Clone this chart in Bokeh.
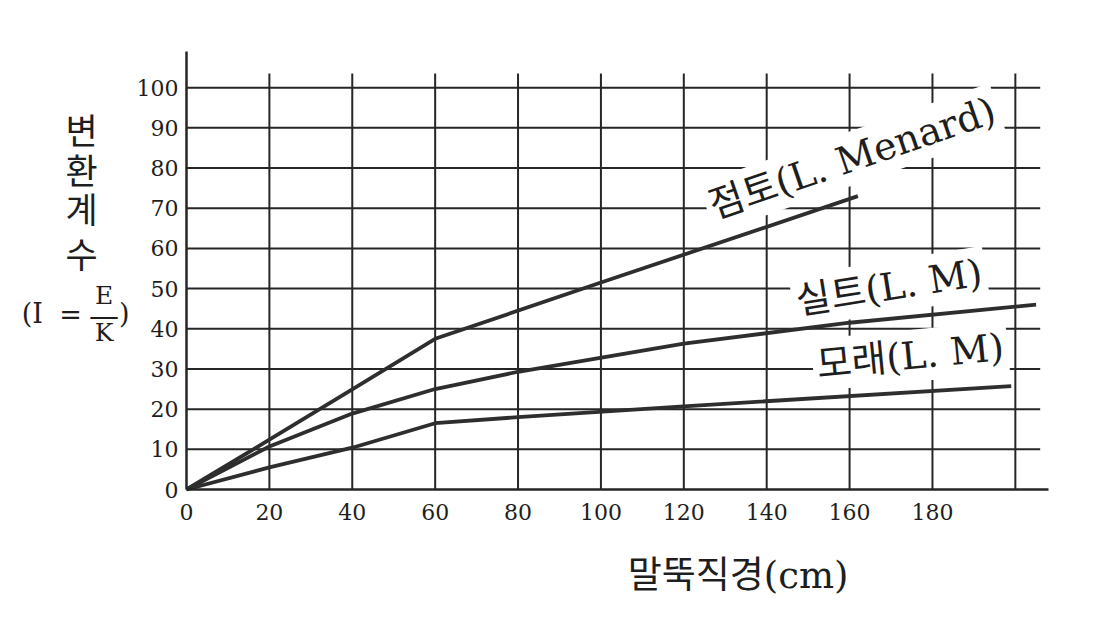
import math
from bokeh.plotting import figure
from bokeh.models import Label, Range1d, FixedTicker
from bokeh.embed import file_html
from bokeh.resources import INLINE

# ---- data ----
x_ticks = [0, 20, 40, 60, 80, 100, 120, 140, 160, 180]
y_ticks = [0, 10, 20, 30, 40, 50, 60, 70, 80, 90, 100]
grid_x = [20, 40, 60, 80, 100, 120, 140, 160, 180, 200]
grid_y = [10, 20, 30, 40, 50, 60, 70, 80, 90, 100]

clay_x = [0, 20, 40, 60, 100, 162]
clay_y = [0, 12.4, 24.9, 37.5, 51.5, 73]
silt_x = [0, 20, 40, 60, 80, 120, 160, 205]
silt_y = [0, 10.7, 18.9, 25.0, 29.3, 36.3, 41.5, 46.0]
sand_x = [0, 20, 40, 60, 80, 120, 199]
sand_y = [0, 5.5, 10.4, 16.5, 18.0, 20.7, 25.7]

labels = ["점토(L. Menard)", "실트(L. M)", "모래(L. M)"]
y_title_chars = ["변", "환", "계", "수"]
x_title = "말뚝직경(cm)"

SERIF = "DejaVu Serif, Noto Sans CJK KR"
CJK = "Noto Sans CJK KR"
INK = "#262626"
TXT = "#1e1e1e"

W, H = 1090, 612
KX = 862 / 208.0   # px per x unit
KY = 438 / 109.0   # px per y unit
x0 = -186 / KX
y0 = -123 / KY

p = figure(width=W, height=H, output_backend="svg", toolbar_location=None,
           x_range=Range1d(x0, x0 + W / KX), y_range=Range1d(y0, y0 + H / KY),
           min_border_left=0, min_border_right=0, min_border_top=0, min_border_bottom=0)
p.outline_line_color = None
p.grid.visible = False
p.background_fill_color = "white"
p.border_fill_color = "white"

p.xaxis.fixed_location = 0
p.yaxis.fixed_location = 0
p.xaxis.bounds = (0, 208)
p.yaxis.bounds = (0, 109)
for ax in (p.xaxis[0], p.yaxis[0]):
    ax.axis_line_width = 2.5
    ax.axis_line_color = INK
    ax.major_tick_in = 0
    ax.major_tick_out = 0
    ax.minor_tick_in = 0
    ax.minor_tick_out = 0
    ax.major_label_text_font = "DejaVu Serif"
    ax.major_label_text_font_size = "22px"
    ax.major_label_text_color = TXT
p.xaxis.ticker = FixedTicker(ticks=x_ticks)
p.yaxis.ticker = FixedTicker(ticks=y_ticks)
p.xaxis.major_label_standoff = 14
p.yaxis.major_label_standoff = 8

# grid lines of limited extent (drawn beneath the label boxes)
p.segment(x0=grid_x, y0=[0] * len(grid_x), x1=grid_x, y1=[103.5] * len(grid_x),
          line_color=INK, line_width=2, level="image")
p.segment(x0=[0] * len(grid_y), y0=grid_y, x1=[206] * len(grid_y), y1=grid_y,
          line_color=INK, line_width=2, level="image")

for xs, ys in ((clay_x, clay_y), (silt_x, silt_y), (sand_x, sand_y)):
    p.line(xs, ys, line_color="#2e2e2e", line_width=3.8)

# curve labels (white boxes hide the grid, the curves stay on top)
lab_pos = [(125.5, 70.0, 19), (146.2, 46.6, 9), (151.1, 30.9, 5.5)]
for txt, (lx, ly, ang) in zip(labels, lab_pos):
    p.add_layout(Label(x=lx, y=ly, text=txt, angle=math.radians(ang),
                       text_font=SERIF, text_font_size="38px", text_color=TXT,
                       text_align="left", text_baseline="alphabetic",
                       background_fill_color="white", padding=4, level="underlay"))

# y-axis title (stacked characters)
for ch, yy in zip(y_title_chars, [89.8, 80.0, 70.1, 59.1]):
    p.add_layout(Label(x=-25.3, y=yy, text=ch, text_font=CJK, text_font_size="35px",
                       text_color=TXT, text_align="center", text_baseline="middle"))
for txt, xx, yy, fs in (("(I", -37.2, 43.8, "27px"), ("=", -28.0, 43.6, "27px"),
                        ("E", -19.9, 48.2, "25px"), ("—", -19.9, 43.4, "30px"),
                        ("K", -19.9, 39.0, "25px"), (")", -15.0, 43.8, "27px")):
    p.add_layout(Label(x=xx, y=yy, text=txt, text_font="DejaVu Serif", text_font_size=fs,
                       text_color=TXT, text_align="center", text_baseline="middle"))

# x-axis title
p.add_layout(Label(x=133.1, y=-21.4, text=x_title, text_font=SERIF, text_font_size="37px",
                   text_color=TXT, text_align="center", text_baseline="middle"))

open("out.html", "w").write(file_html(p, INLINE))
